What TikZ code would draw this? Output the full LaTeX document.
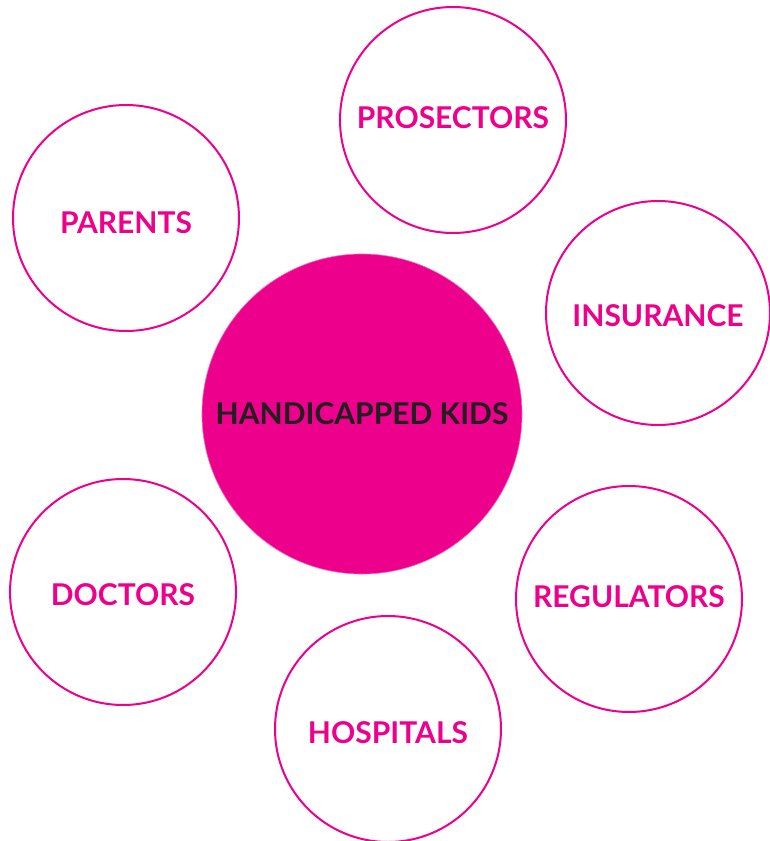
\documentclass[tikz,border=0pt]{standalone}
\usepackage{fontspec}
\setmainfont{Lato}
\usepackage{tikz}

\definecolor{hotpink}{HTML}{EC008C}
\definecolor{inkgray}{HTML}{231F20}

\tikzset{
    ring/.style={circle, draw=hotpink, line width=2pt, fill=white,
        minimum size=226pt, inner sep=0pt, text=hotpink,
        font=\fontsize{30}{34}\selectfont\bfseries},
    hub/.style={circle, draw=hotpink!60, line width=0.6pt, fill=hotpink,
        minimum size=320pt, inner sep=0pt, text=inkgray,
        font=\fontsize{30}{34}\selectfont\bfseries},
    % nudge the label inside its circle
    textdrop/.style={text height=#1, text depth=0pt},
    textlift/.style={text height=21.5pt, text depth=#1}
}

\begin{document}
\begin{tikzpicture}[x=1pt, y=-1pt]
    \useasboundingbox (0, 0) rectangle (769, 841);

    \node [hub] (kids) at (362, 414) {HANDICAPPED KIDS};

    \node [ring, textlift=5pt] (prosectors) at (453, 120) {PROSECTORS};
    \node [ring, textdrop=31.5pt] (parents) at (126, 218) {PARENTS};
    \node [ring, textdrop=26.5pt, minimum size=224pt] (insurance) at (658, 313) {INSURANCE};
    \node [ring, textdrop=26.5pt] (doctors) at (123, 592) {DOCTORS};
    \node [ring, textlift=4pt] (regulators) at (629, 599) {REGULATORS};
    \node [ring, textdrop=29.5pt] (hospitals) at (388, 729) {HOSPITALS};
\end{tikzpicture}
\end{document}
